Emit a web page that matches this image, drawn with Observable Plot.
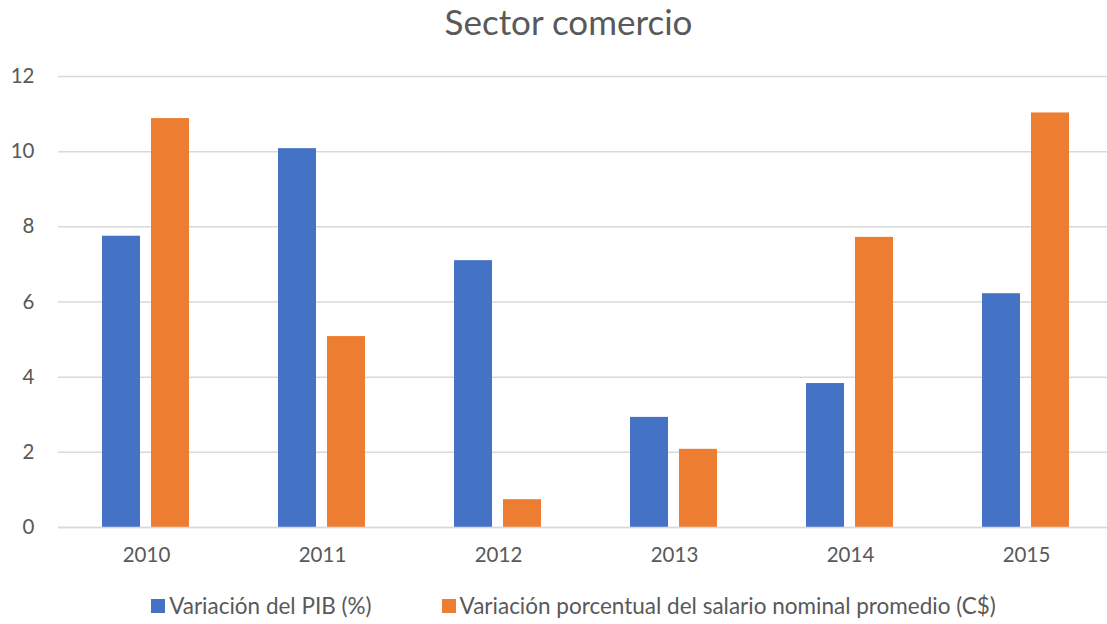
<!DOCTYPE html>
<html>
<head>
<meta charset="utf-8">
<script src="https://cdn.jsdelivr.net/npm/d3@7"></script>
<script src="https://cdn.jsdelivr.net/npm/@observablehq/plot@0.6"></script>
<style>
  html, body { margin: 0; padding: 0; background: #fff; }
  body { width: 1107px; height: 624px; overflow: hidden; font-family: Lato, "Open Sans", sans-serif; color: #595959; }
  #title { height: 48px; line-height: 42px; text-align: center; font-size: 35px; padding-left: 30px; width: 1107px; box-sizing: border-box; }
  #chart { width: 1107px; height: 530px; overflow: hidden; }
  #legend { display: flex; justify-content: center; gap: 70px; font-size: 22.5px; margin-top: 14px; padding-left: 40px; width: 1107px; box-sizing: border-box; }
  .item { display: flex; align-items: center; }
  .sw { width: 14px; height: 14px; margin-right: 4px; }
</style>
</head>
<body>
<div id="title">Sector comercio</div>
<div id="chart"></div>
<div id="legend"></div>
<script>
const years = ["2010", "2011", "2012", "2013", "2014", "2015"];
const seriesNames = ["Variación del PIB (%)", "Variación porcentual del salario nominal promedio (C$)"];
const pib = [7.75, 10.08, 7.10, 2.93, 3.83, 6.22];
const salario = [10.88, 5.08, 0.74, 2.08, 7.72, 11.03];
const colors = ["#4472C4", "#ED7D31"];
const yTicks = [0, 2, 4, 6, 8, 10, 12];

const data = [];
years.forEach((y, i) => {
  data.push({year: y, series: seriesNames[0], value: pib[i]});
  data.push({year: y, series: seriesNames[1], value: salario[i]});
});

const chart = Plot.plot({
  width: 1115,
  height: 530,
  marginLeft: 57,
  marginRight: 0,
  marginTop: 28,
  marginBottom: 51,
  style: {fontFamily: "Lato, 'Open Sans', sans-serif", fontSize: "20.5px", color: "#595959", background: "#fff", overflow: "hidden", maxWidth: "none"},
  fx: {domain: years, padding: 0, label: null, tickSize: 0, tickPadding: 20},
  x: {domain: seriesNames, axis: null, paddingInner: 0.22, paddingOuter: 0.873},
  y: {domain: [0, 12], ticks: yTicks, label: null, tickSize: 0, tickPadding: 24, tickFormat: d => String(d)},
  color: {domain: seriesNames, range: colors},
  marks: [
    Plot.gridY(yTicks, {stroke: "#d9d9d9", strokeOpacity: 1, strokeWidth: 1.5}),
    Plot.barY(data, {fx: "year", x: "series", y: "value", fill: "series"}),
    Plot.ruleY([0], {stroke: "#d9d9d9", strokeWidth: 1.5})
  ]
});
document.getElementById("chart").appendChild(chart);

const legend = document.getElementById("legend");
seriesNames.forEach((s, i) => {
  const it = document.createElement("div");
  it.className = "item";
  const sw = document.createElement("div");
  sw.className = "sw";
  sw.style.background = colors[i];
  const t = document.createElement("span");
  t.textContent = s;
  it.appendChild(sw); it.appendChild(t);
  legend.appendChild(it);
});
</script>
</body>
</html>
